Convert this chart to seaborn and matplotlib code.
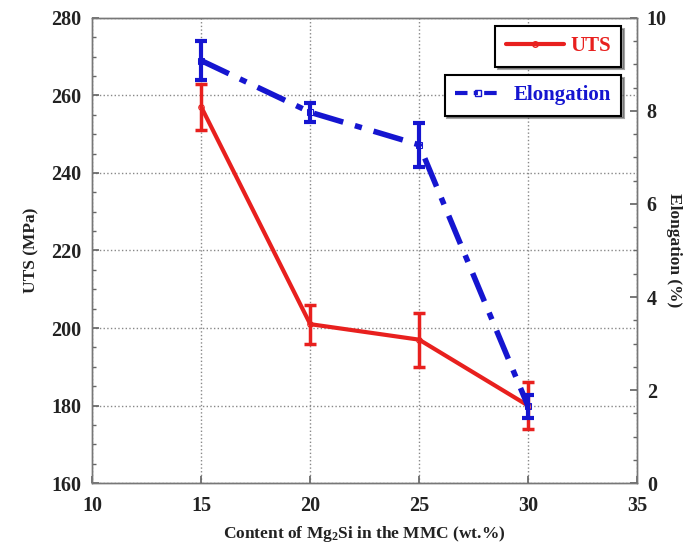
import matplotlib
matplotlib.use("Agg")
import matplotlib.pyplot as plt
import seaborn as sns
import pandas as pd
from matplotlib.ticker import MultipleLocator
from matplotlib.lines import Line2D

# Mg2Si content (wt.%)
content = [15, 20, 25, 30]
# Ultimate tensile strength (MPa) and its error
uts = [257, 201, 197, 180]
uts_err = [6, 5, 7, 6]
# Elongation (%) and its error
elong = [9.08, 7.97, 7.27, 1.65]
elong_err = [0.42, 0.2, 0.48, 0.25]

sns.set_theme(style="ticks")
plt.rcParams["font.family"] = ["Liberation Serif", "DejaVu Serif"]
plt.rcParams["font.weight"] = "bold"
plt.rcParams["mathtext.fontset"] = "custom"
plt.rcParams["mathtext.rm"] = "Liberation Serif:bold"
plt.rcParams["mathtext.it"] = "Liberation Serif:bold"
plt.rcParams["mathtext.bf"] = "Liberation Serif:bold"

df = pd.DataFrame({"content": content, "uts": uts, "elong": elong})

fig = plt.figure(figsize=(6.94, 5.56), dpi=100)
ax = fig.add_axes([0.133, 0.131, 0.785, 0.837])
ax2 = ax.twinx()

red = "#e8201e"
blue = "#1515d0"

sns.lineplot(data=df, x="content", y="uts", ax=ax, color=red, lw=3,
             marker="o", markersize=4, markerfacecolor="none",
             markeredgecolor=red, legend=False)
ax.errorbar(content, uts, yerr=uts_err, fmt="none", ecolor=red,
            elinewidth=2.5, capsize=4, capthick=2.5)

sns.lineplot(data=df, x="content", y="elong", ax=ax2, color=blue, lw=4,
             marker="s", markersize=4, markerfacecolor="none",
             markeredgecolor=blue, legend=False)
ax2.lines[-1].set_dashes([5.5, 2.2, 1.3, 2.2])
ax2.errorbar(content, elong, yerr=elong_err, fmt="none", ecolor=blue,
             elinewidth=3, capsize=4, capthick=3)

ax.set_xlim(10, 35)
ax.set_ylim(160, 280)
ax2.set_ylim(0, 10)
ax.xaxis.set_major_locator(MultipleLocator(5))
ax.yaxis.set_major_locator(MultipleLocator(20))
ax.yaxis.set_minor_locator(MultipleLocator(5))
ax2.yaxis.set_major_locator(MultipleLocator(2))
ax2.yaxis.set_minor_locator(MultipleLocator(0.5))

ax.grid(True, which="major", linestyle=":", color="#888888", lw=1)
for a in (ax, ax2):
    a.tick_params(which="both", direction="in", labelsize=14.5, color="#666666")
    a.tick_params(which="major", length=5)
    a.tick_params(which="minor", length=3)
    for s in a.spines.values():
        s.set_color("#777777")
        s.set_linewidth(1)
ax.tick_params(axis="x", pad=9)
ax.tick_params(axis="y", pad=8)
ax2.tick_params(axis="y", pad=7)

ax.set_xlabel("Content of Mg$_2$Si in the MMC (wt.%)", fontsize=12.5,
              fontweight="bold", color="#222222", labelpad=6)
ax.set_ylabel("UTS (MPa)", fontsize=12.5, fontweight="bold", color="#222222",
              labelpad=8)
ax2.set_ylabel("Elongation (%)", fontsize=12.5, fontweight="bold",
               color="#222222", rotation=270, labelpad=11)
for lab in ax.get_xticklabels() + ax.get_yticklabels() + ax2.get_yticklabels():
    lab.set_fontweight("bold")
    lab.set_color("#222222")

h1 = Line2D([], [], color=red, lw=3, marker="o", markersize=4,
            markerfacecolor="none")
h2 = Line2D([], [], color=blue, lw=3, marker="s", markersize=4,
            markerfacecolor="none", dashes=[3, 1.5, 1, 1.5])
legend_font = {"family": "Liberation Serif", "weight": "bold", "size": 15}
leg1 = ax2.legend([h1], ["UTS"], loc="upper right",
                  bbox_to_anchor=(0.99, 1.005), shadow=True, fancybox=False,
                  edgecolor="black", framealpha=1, handlelength=2.8,
                  handletextpad=0.3, borderpad=0.5, prop=legend_font)
for t in leg1.get_texts():
    t.set_color(red)
leg1.get_frame().set_linewidth(1.5)
ax2.add_artist(leg1)
leg2 = ax2.legend([h2], ["Elongation"], loc="upper right",
                  bbox_to_anchor=(0.99, 0.9), shadow=True, fancybox=False,
                  edgecolor="black", framealpha=1, handlelength=2.2,
                  handletextpad=0.6, borderpad=0.5, prop=legend_font)
for t in leg2.get_texts():
    t.set_color(blue)
leg2.get_frame().set_linewidth(1.5)

fig.savefig("out.png", dpi=100)
